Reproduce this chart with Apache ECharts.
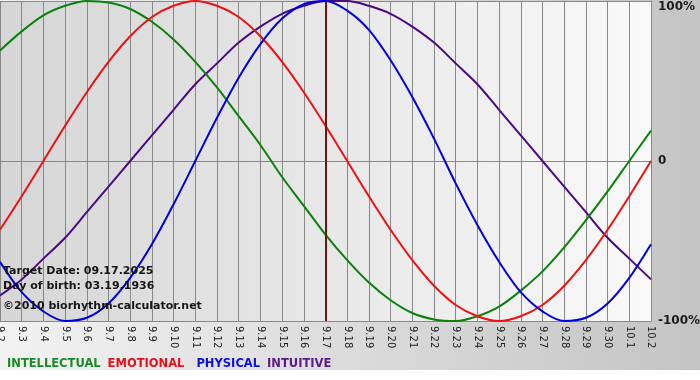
<!DOCTYPE html>
<html>
<head>
<meta charset="utf-8">
<script src="https://cdn.jsdelivr.net/npm/echarts@6/dist/echarts.min.js"></script>
<style>
  html, body { margin: 0; padding: 0; background: #ffffff; }
  #chart { width: 700px; height: 380px; }
</style>
</head>
<body>
<div id="chart"></div>
<script>
// Dates (x-axis categories)
var dates = ['9.2','9.3','9.4','9.5','9.6','9.7','9.8','9.9','9.10','9.11','9.12','9.13','9.14','9.15','9.16','9.17','9.18','9.19','9.20','9.21','9.22','9.23','9.24','9.25','9.26','9.27','9.28','9.29','9.30','10.1','10.2'];

// Cycle values (-1 .. 1)
var intellectual = [0.69,0.81,0.91,0.97,1.00,0.99,0.95,0.87,0.76,0.62,0.46,0.28,0.10,-0.10,-0.28,-0.46,-0.62,-0.76,-0.87,-0.95,-0.99,-1.00,-0.97,-0.91,-0.81,-0.69,-0.54,-0.37,-0.19,0.00,0.19];
var emotional    = [-0.43,-0.22,0.00,0.22,0.43,0.62,0.78,0.90,0.97,1.00,0.97,0.90,0.78,0.62,0.43,0.22,0.00,-0.22,-0.43,-0.62,-0.78,-0.90,-0.97,-1.00,-0.97,-0.90,-0.78,-0.62,-0.43,-0.22,0.00];
var physical     = [-0.63,-0.82,-0.94,-1.00,-0.98,-0.89,-0.73,-0.52,-0.27,0.00,0.27,0.52,0.73,0.89,0.98,1.00,0.94,0.82,0.63,0.40,0.14,-0.14,-0.40,-0.63,-0.82,-0.94,-1.00,-0.98,-0.89,-0.73,-0.52];
var intuitive    = [-0.84,-0.74,-0.61,-0.48,-0.32,-0.16,0.00,0.16,0.32,0.48,0.61,0.74,0.84,0.92,0.97,1.00,1.00,0.97,0.92,0.84,0.74,0.61,0.48,0.32,0.16,0.00,-0.16,-0.32,-0.48,-0.61,-0.74];

var seriesNames = ['INTELLECTUAL','EMOTIONAL','PHYSICAL','INTUITIVE'];
var targetDate = '9.17';
var yTickLabels = { '-1': '-100%', '0': '0', '1': '100%' };
var infoLines = ['Target Date: 09.17.2025', 'Day of birth: 03.19.1936', '\u00a92010 biorhythm-calculator.net'];

var colors = { INTELLECTUAL: '#0a820a', EMOTIONAL: '#ee1111', PHYSICAL: '#0000dd', INTUITIVE: '#4b0a82' };
var legendColors = { INTELLECTUAL: '#1a8a2a', EMOTIONAL: '#e8101a', PHYSICAL: '#1010dd', INTUITIVE: '#5a1a8a' };
var legendPad = { INTELLECTUAL: 0, EMOTIONAL: 0, PHYSICAL: 5, INTUITIVE: 0 };

var FONT = '"DejaVu Sans", Verdana, sans-serif';
var chart = echarts.init(document.getElementById('chart'), null, { renderer: 'canvas' });

function lineSeries(name, data, z) {
  return {
    name: name, type: 'line', data: data, smooth: 0.33, symbol: 'none', z: z,
    lineStyle: { color: colors[name], width: 2 }, itemStyle: { color: colors[name] }
  };
}

var series = [
  lineSeries('INTUITIVE', intuitive, 2),
  lineSeries('INTELLECTUAL', intellectual, 3),
  lineSeries('EMOTIONAL', emotional, 4),
  lineSeries('PHYSICAL', physical, 5)
];
series[0].markLine = {
  silent: true, symbol: 'none', label: { show: false },
  lineStyle: { color: '#7a1010', width: 2, type: 'solid' },
  data: [{ xAxis: targetDate }]
};

var option = {
  animation: false,
  backgroundColor: '#ffffff',
  graphic: [
    {
      type: 'rect', z: -10, silent: true,
      shape: { x: 0, y: 0, width: 700, height: 370 },
      style: { fill: new echarts.graphic.LinearGradient(0, 0, 1, 0, [
        { offset: 0, color: '#f2f2f2' }, { offset: 1, color: '#c4c4c4' }
      ]) }
    }
  ].concat(infoLines.map(function (t, i) {
    return {
      type: 'text', z: 100, silent: true, left: 3, top: [266, 281, 301][i],
      style: { text: t, font: 'bold 11px ' + FONT, fill: '#151515' }
    };
  })),
  legend: {
    left: -3, top: 353, icon: 'none', itemWidth: 0, itemHeight: 10, itemGap: 2,
    selectedMode: false,
    data: seriesNames.map(function (n) {
      return { name: n, textStyle: { color: legendColors[n], fontWeight: 'bold', fontSize: 11.5, fontFamily: FONT, padding: [0, 0, 0, legendPad[n]] } };
    })
  },
  grid: {
    left: 0, right: 49, top: 1, bottom: 59, show: true, borderWidth: 0,
    outerBoundsMode: 'none',
    backgroundColor: new echarts.graphic.LinearGradient(0, 0, 1, 0, [
      { offset: 0, color: '#d6d6d6' }, { offset: 1, color: '#f9f9f9' }
    ])
  },
  xAxis: {
    type: 'category', data: dates, boundaryGap: false,
    axisLine: { show: true, lineStyle: { color: '#888888', width: 1 } },
    axisTick: { show: true, length: 4, interval: 0, lineStyle: { color: '#888888' } },
    splitLine: { show: true, interval: 0, lineStyle: { color: '#888888', width: 1 } },
    axisLabel: { interval: 0, rotate: -90, fontSize: 10, fontFamily: FONT, color: '#222222', margin: 5 }
  },
  yAxis: {
    type: 'value', position: 'right', min: -1, max: 1, interval: 1,
    axisLine: { show: true, lineStyle: { color: '#888888' } },
    axisTick: { show: false },
    splitLine: { show: true, lineStyle: { color: '#888888', width: 1 } },
    axisLabel: {
      margin: 7, fontSize: 12, fontWeight: 'bold', fontFamily: FONT, color: '#1a1a1a',
      verticalAlignMaxLabel: 'top',
      formatter: function (v) { return yTickLabels[String(v)]; }
    }
  },
  series: series
};
chart.setOption(option);
</script>
</body>
</html>
